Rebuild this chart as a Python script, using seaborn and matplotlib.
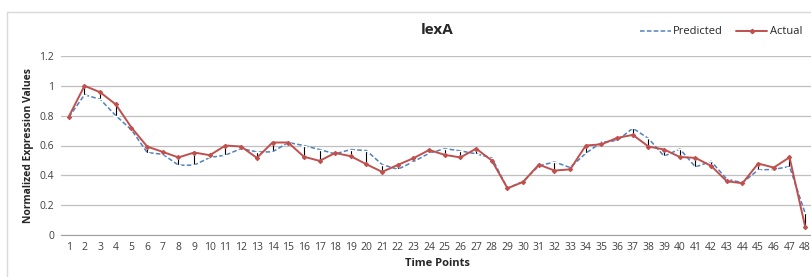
import numpy as np
import pandas as pd
import matplotlib
matplotlib.use("Agg")
import matplotlib.pyplot as plt
import seaborn as sns
from matplotlib.lines import Line2D

# values
time_points = list(range(1, 49))
actual = [0.794, 1.0, 0.957, 0.875, 0.72, 0.593, 0.557, 0.52, 0.553, 0.535,
          0.60, 0.593, 0.517, 0.62, 0.62, 0.525, 0.497, 0.55, 0.528, 0.474,
          0.423, 0.47, 0.515, 0.57, 0.537, 0.52, 0.579, 0.499, 0.313, 0.356,
          0.472, 0.432, 0.44, 0.60, 0.608, 0.651, 0.671, 0.593, 0.573, 0.523,
          0.517, 0.463, 0.36, 0.347, 0.479, 0.452, 0.521, 0.056]
predicted = [0.79, 0.94, 0.91, 0.80, 0.705, 0.553, 0.541, 0.468, 0.468, 0.52,
             0.535, 0.58, 0.557, 0.557, 0.62, 0.60, 0.573, 0.544, 0.573, 0.566,
             0.472, 0.44, 0.492, 0.548, 0.579, 0.564, 0.544, 0.517, 0.313, 0.36,
             0.463, 0.49, 0.452, 0.548, 0.622, 0.633, 0.716, 0.647, 0.528, 0.577,
             0.456, 0.494, 0.374, 0.351, 0.436, 0.44, 0.459, 0.145]

df = pd.DataFrame({"t": time_points, "Actual": actual, "Predicted": predicted})

sns.set_style("white")
plt.rcParams["font.family"] = ["Open Sans", "DejaVu Sans"]

red = "#C0504D"
blue = "#4F81BD"

fig = plt.figure(figsize=(8.12, 2.77), dpi=100)
ax = fig.add_axes([61 / 812, 1 - 235 / 277, (813 - 61) / 812, (235 - 56) / 277])

# high-low lines between the two series
ax.vlines(df["t"], df["Predicted"], df["Actual"], color="black", lw=0.8, zorder=2)

sns.lineplot(data=df, x="t", y="Predicted", ax=ax, color=blue, lw=1.1,
             linestyle=(0, (3, 1.5)), marker="_", markersize=4, mew=1,
             zorder=3)
sns.lineplot(data=df, x="t", y="Actual", ax=ax, color=red, lw=1.4,
             marker="D", markersize=2.2, mec=red, zorder=4)

ax.set_xlim(0.5, 48.5)
ax.set_ylim(0, 1.2)
ax.set_yticks([0, 0.2, 0.4, 0.6, 0.8, 1.0, 1.2])
ax.set_yticklabels(["0", "0.2", "0.4", "0.6", "0.8", "1", "1.2"])
ax.set_xticks(time_points)
ax.tick_params(axis="both", labelsize=7.5, colors="#404040", length=0, pad=5)
ax.yaxis.grid(True, color="#bfbfbf", lw=0.9)
ax.xaxis.grid(False)
for s in ["top", "right", "left"]:
    ax.spines[s].set_visible(False)
ax.spines["bottom"].set_color("#a0a0a0")
ax.set_axisbelow(True)

ax.set_xlabel("Time Points", fontsize=8, fontweight="bold", labelpad=4)
ax.set_ylabel("Normalized Expression Values", fontsize=7.5, fontweight="bold", labelpad=4)

fig.text(437 / 812, 1 - 30 / 277, "lexA", ha="center", va="center",
         fontsize=11, fontweight="bold")

handles = [Line2D([], [], color=blue, lw=1.1, linestyle=(0, (3, 1.5))),
           Line2D([], [], color=red, lw=1.4, marker="D", markersize=2.2)]
fig.legend(handles, ["Predicted", "Actual"], loc="center right",
           bbox_to_anchor=(812 / 812, 1 - 32 / 277), ncol=2, frameon=False,
           fontsize=8, handlelength=2.8, columnspacing=1.2, handletextpad=0.2)

# chart frame
fig.add_artist(Line2D([7 / 812, 7 / 812], [0, 1 - 12 / 277], color="#d9d9d9", lw=1))
fig.add_artist(Line2D([7 / 812, 1], [1 - 12 / 277, 1 - 12 / 277], color="#d9d9d9", lw=1))

fig.savefig("out.png", dpi=100)
